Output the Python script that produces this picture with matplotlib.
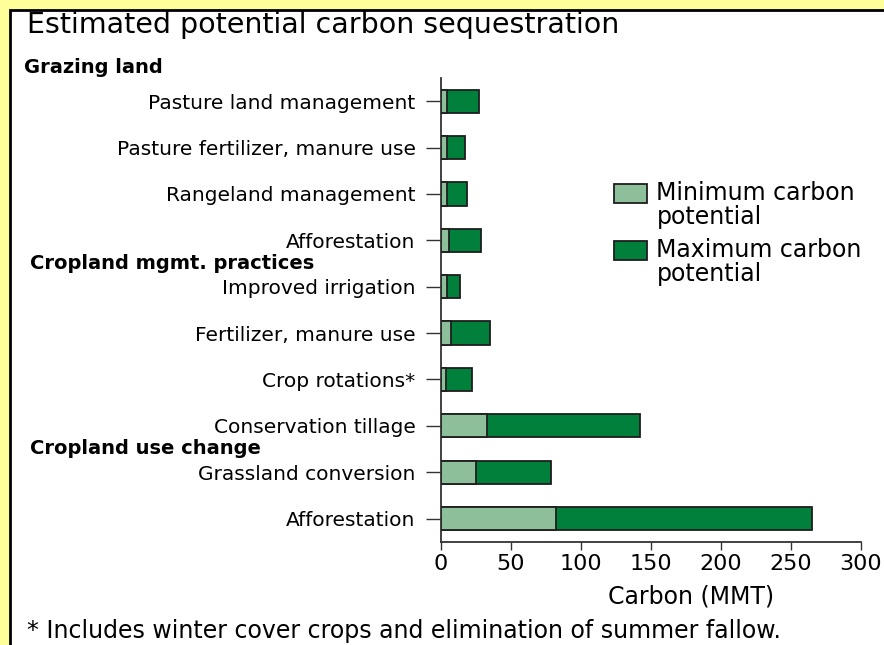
import matplotlib.pyplot as plt
from matplotlib.patches import Rectangle, Patch
from matplotlib.legend_handler import HandlerPatch

plt.rcParams.update({
    'font.family': 'DejaVu Sans',
    'font.size': 17,
})

# values (MMT carbon)
categories = [
    'Pasture land management', 'Pasture fertilizer, manure use',
    'Rangeland management', 'Afforestation', 'Improved irrigation',
    'Fertilizer, manure use', 'Crop rotations*', 'Conservation tillage',
    'Grassland conversion', 'Afforestation',
]
min_carbon = [4.5, 4.5, 4.5, 6, 4.5, 7.5, 4, 33, 25, 82]
max_carbon = [27, 17, 19, 29, 14, 35, 22, 142, 79, 265]

group_names = ['Grazing land', 'Cropland mgmt. practices', 'Cropland use change']
group_pos = [-0.72, 3.5, 7.5]
group_x = [-0.992, -0.978, -0.978]

xticks = [0, 50, 100, 150, 200, 250, 300]

c_min = '#8DC09A'
c_max = '#00803A'
edge = '#1e1e1e'

W, H = 884, 645
fig = plt.figure(figsize=(W / 100, H / 100), dpi=100, facecolor='#FFFF99')

# white panel with black frame (runs off the right and bottom edges)
panel = Rectangle((9.5 / W, -0.1), 2, 1 - 10 / H + 0.1,
                  transform=fig.transFigure, facecolor='white',
                  edgecolor='black', lw=2, zorder=-10)
fig.patches.append(panel)

ax = fig.add_axes([440.7 / W, (H - 541.7) / H, 420 / W, (541.7 - 78) / H])
ax.set_facecolor('none')

ypos = list(range(len(categories)))
ax.barh(ypos, max_carbon, height=0.5, color=c_max, edgecolor=edge, lw=1.3, zorder=2)
ax.barh(ypos, min_carbon, height=0.5, color=c_min, edgecolor=edge, lw=1.3, zorder=3)

ax.set_ylim(9.5, -0.5)
ax.set_xlim(0, 300)
ax.set_yticks(ypos)
ax.set_yticklabels(categories)
ax.set_xticks(xticks)
ax.set_xticklabels([str(v) for v in xticks])

ax.tick_params(axis='y', length=11, width=1, color='#333333', pad=7, labelsize=14.5)
ax.tick_params(axis='x', length=6, width=1, color='#333333', pad=3, labelsize=16)
for s in ['top', 'right']:
    ax.spines[s].set_visible(False)
for s in ['left', 'bottom']:
    ax.spines[s].set_linewidth(1.3)
    ax.spines[s].set_color('#333333')

ax.set_xlabel('Carbon (MMT)', fontsize=17)
ax.xaxis.set_label_coords(0.595, -0.092)

trans = ax.get_yaxis_transform()
for name, yp, xp in zip(group_names, group_pos, group_x):
    ax.text(xp, yp, name, transform=trans, ha='left', va='center',
            fontsize=14, fontweight='bold', clip_on=False)

fig.text(27 / W, 1 - 33 / H, 'Estimated potential carbon sequestration',
         ha='left', va='baseline', fontsize=20.5)


def top_aligned_box(legend, orig_handle, xdescent, ydescent, width, height, fontsize):
    # line the swatch up with the first line of a two-line label
    return Rectangle((-xdescent, -ydescent + 0.55 * fontsize), width, height)


handles = [Patch(facecolor=c_min, edgecolor=edge, lw=1.3),
           Patch(facecolor=c_max, edgecolor=edge, lw=1.3)]
leg = fig.legend(handles, ['Minimum carbon\npotential', 'Maximum carbon\npotential'],
                 loc='upper left', bbox_to_anchor=(614 / W, 1 - 181 / H),
                 frameon=False, fontsize=17, handlelength=1.4, handleheight=0.85,
                 handletextpad=0.4, labelspacing=0.4, borderpad=0, borderaxespad=0,
                 handler_map={Patch: HandlerPatch(patch_func=top_aligned_box)})
for t in leg.get_texts():
    t.set_linespacing(1.0)

fig.text(27 / W, 2 / H,
         '* Includes winter cover crops and elimination of summer fallow.',
         ha='left', va='bottom', fontsize=17)

fig.savefig('out.png', dpi=100, facecolor=fig.get_facecolor())
